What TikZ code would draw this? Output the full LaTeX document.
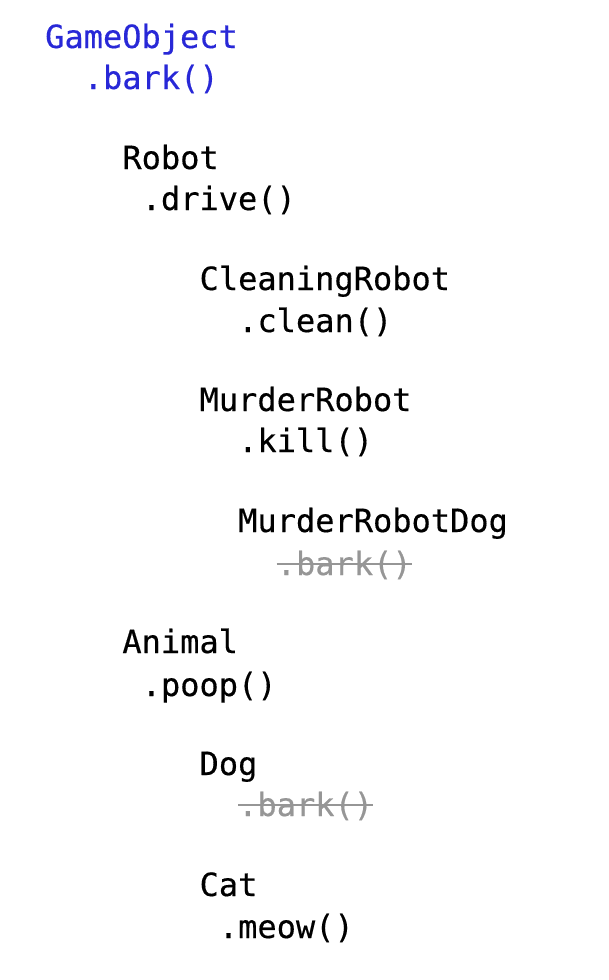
\documentclass[tikz,border=0pt]{standalone}
\usepackage{fontspec}
\setmonofont[FakeBold=0.4]{DejaVu Sans Mono}
\definecolor{codeblue}{RGB}{40,40,215}
\definecolor{strikegray}{RGB}{150,150,150}
\tikzset{
  code/.style={anchor=base west, inner sep=0pt, font=\ttfamily\fontsize{32}{32}\selectfont, text=black},
  bluecode/.style={code, text=codeblue},
  graycode/.style={code, text=strikegray},
  strikeline/.style={draw=strikegray, line width=1.8pt}
}
\newcommand{\cx}[1]{45+#1*19.3}
\begin{document}
\begin{tikzpicture}[x=1pt,y=-1pt]
\useasboundingbox (0,0) rectangle (608,980);
\node[bluecode] (go) at ({\cx{0}},48) {GameObject};
\node[bluecode] (gobark) at ({\cx{2}},89) {.bark()};
\node[code] (robot) at ({\cx{4}},169) {Robot};
\node[code] (drive) at ({\cx{5}},210) {.drive()};
\node[code] (clr) at ({\cx{8}},290) {CleaningRobot};
\node[code] (clean) at ({\cx{10}},332) {.clean()};
\node[code] (mr) at ({\cx{8}},411) {MurderRobot};
\node[code] (kill) at ({\cx{10}},452) {.kill()};
\node[code] (mrd) at ({\cx{10}},532) {MurderRobotDog};
\node[graycode] (mrdbark) at ({\cx{12}},575) {.bark()};
\node[code] (animal) at ({\cx{4}},653) {Animal};
\node[code] (poop) at ({\cx{5}},696) {.poop()};
\node[code] (dog) at ({\cx{8}},775) {Dog};
\node[graycode] (dogbark) at ({\cx{10}},816) {.bark()};
\node[code] (cat) at ({\cx{8}},896) {Cat};
\node[code] (meow) at ({\cx{9}},938) {.meow()};
\draw[strikeline] ([yshift=11pt]mrdbark.base west) -- ([yshift=11pt]mrdbark.base east);
\draw[strikeline] ([yshift=11pt]dogbark.base west) -- ([yshift=11pt]dogbark.base east);
\end{tikzpicture}
\end{document}
